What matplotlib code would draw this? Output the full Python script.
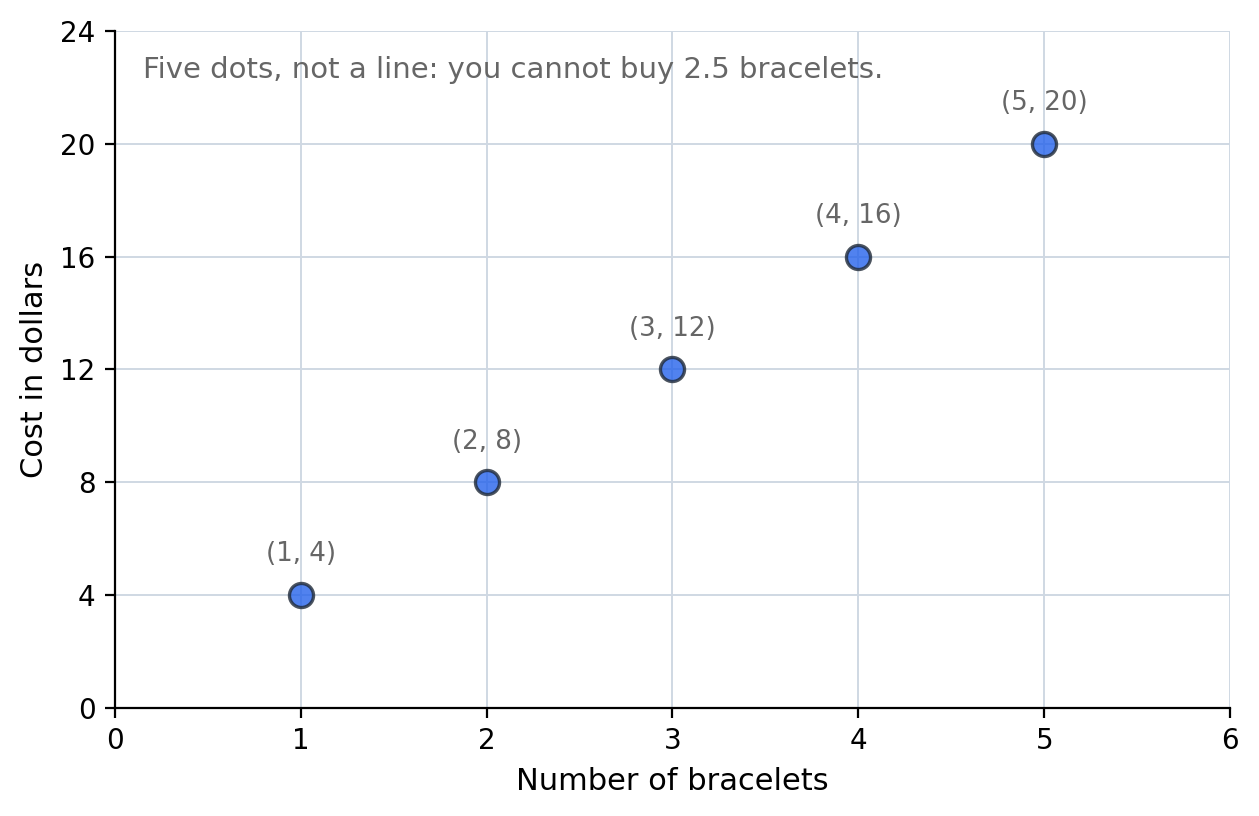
import matplotlib
matplotlib.use("Agg")
import matplotlib.pyplot as plt

# bracelets bought vs cost
bracelets = [1, 2, 3, 4, 5]
cost = [4, 8, 12, 16, 20]
x_ticks = [0, 1, 2, 3, 4, 5, 6]
y_ticks = [0, 4, 8, 12, 16, 20, 24]

fig = plt.figure(figsize=(6.295, 4.08), dpi=200)
ax = fig.add_axes([0.0913, 0.1324, 0.8857, 0.8296])

ax.scatter(bracelets, cost, s=75, color="#2563eb", alpha=0.8,
           edgecolor="#1f2937", linewidth=1.2, zorder=3)

for xv, yv in zip(bracelets, cost):
    ax.annotate(f"({xv}, {yv})", (xv, yv), xytext=(0, 10),
                textcoords="offset points", ha="center", va="bottom",
                fontsize=9.4, color="#666666")

ax.text(0.025, 0.963, "Five dots, not a line: you cannot buy 2.5 bracelets.",
        transform=ax.transAxes, ha="left", va="top", fontsize=10.5,
        color="#666666")

ax.set_xlim(0, 6)
ax.set_ylim(0, 24)
ax.set_xticks(x_ticks)
ax.set_yticks(y_ticks)
ax.tick_params(labelsize=10)
ax.set_xlabel("Number of bracelets", fontsize=11)
ax.set_ylabel("Cost in dollars", fontsize=11)
ax.grid(True, color="#cfd8e3", linewidth=0.7)
ax.set_axisbelow(True)
ax.spines["top"].set_visible(False)
ax.spines["right"].set_visible(False)

fig.savefig("out.png", dpi=200)
